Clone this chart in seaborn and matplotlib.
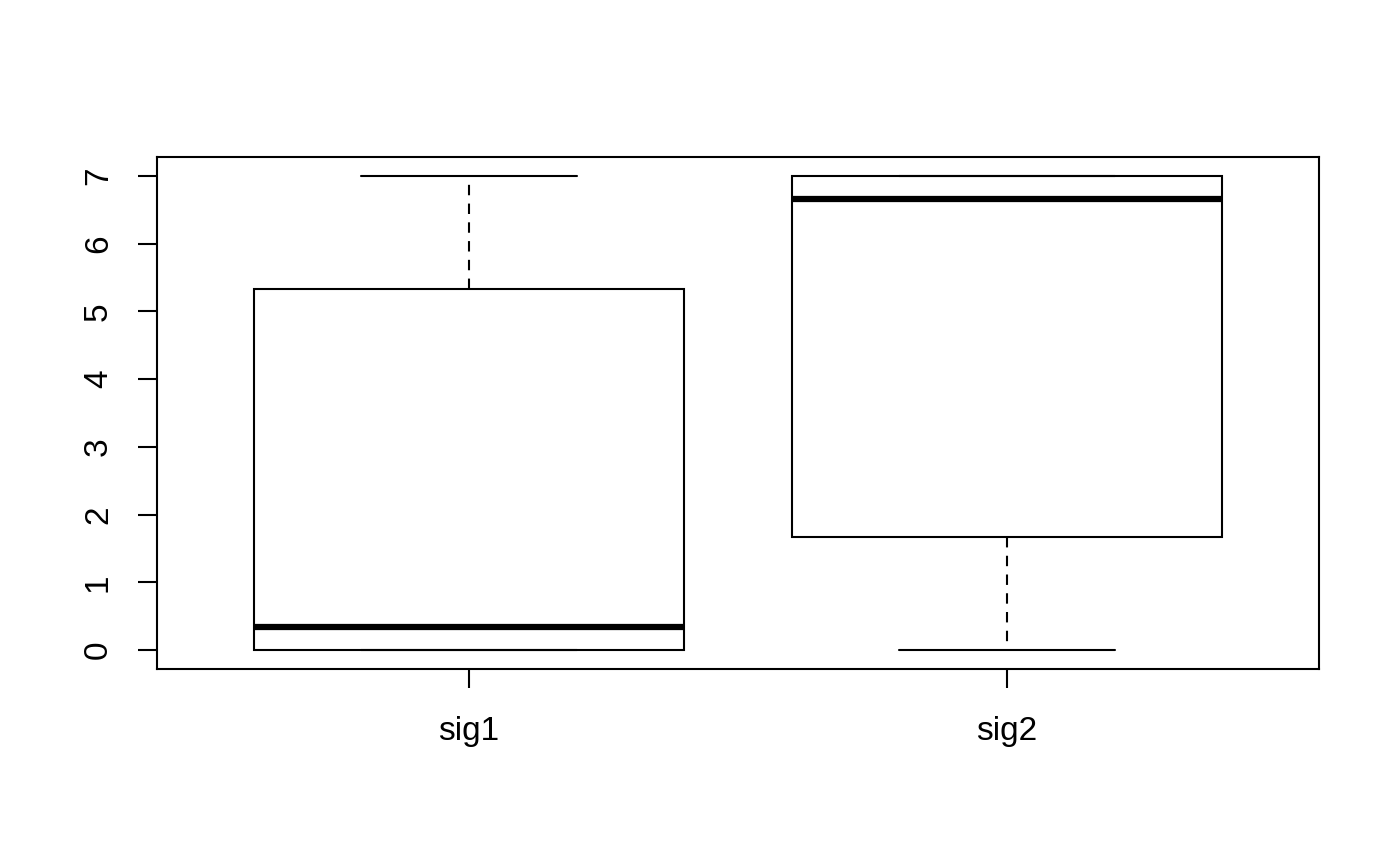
import numpy as np
import pandas as pd
import matplotlib
matplotlib.use("Agg")
import matplotlib.pyplot as plt
import seaborn as sns

# Data (values chosen to reproduce the five-number summaries)
categories = ["sig1", "sig2"]
sig1_values = [0.0, 0.0, 0.333, 5.333, 7.0]
sig2_values = [0.0, 1.667, 6.667, 7.0, 7.0]
y_ticks = [0, 1, 2, 3, 4, 5, 6, 7]

df = pd.DataFrame({
    "group": ["sig1"] * len(sig1_values) + ["sig2"] * len(sig2_values),
    "value": sig1_values + sig2_values,
})

sns.set_style("white")
plt.rcParams["font.family"] = ["Liberation Sans", "DejaVu Sans"]

fig = plt.figure(figsize=(7, 4.33), dpi=200)
ax = fig.add_axes([157 / 1400, 1 - 669 / 866, (1319 - 157) / 1400, (669 - 157) / 866])

lw = 0.75
sns.boxplot(
    data=df, x="group", y="value", order=categories, ax=ax,
    width=0.8, whis=1.5, fill=True, color="white", linecolor="black",
    linewidth=lw,
    boxprops=dict(facecolor="white", edgecolor="black", linewidth=lw),
    medianprops=dict(color="black", linewidth=lw * 3, solid_capstyle="butt"),
    whiskerprops=dict(color="black", linewidth=lw, linestyle=(0, (5, 4))),
    capprops=dict(color="black", linewidth=lw),
    showfliers=False,
)

ax.set_xlim(-0.58, 1.58)
ax.set_ylim(-0.28, 7.28)
ax.set_yticks(y_ticks)
ax.set_yticklabels([str(t) for t in y_ticks], rotation=90, va="center")
ax.set_xlabel("")
ax.set_ylabel("")

for s in ax.spines.values():
    s.set_visible(True)
    s.set_linewidth(lw)
    s.set_color("black")

ax.tick_params(axis="both", which="major", direction="out", length=7, width=lw,
               color="black", labelsize=12, labelcolor="black",
               left=True, bottom=True)
ax.tick_params(axis="x", pad=10)
ax.tick_params(axis="y", pad=8.5)

fig.savefig("out.png", dpi=200, facecolor="white")
